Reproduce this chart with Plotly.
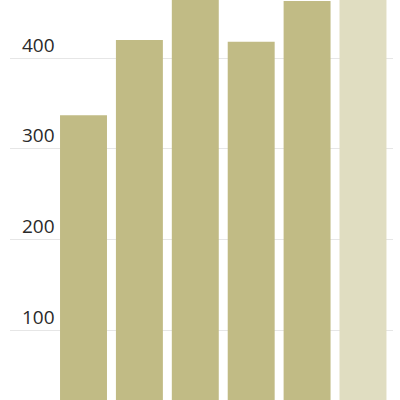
import plotly.graph_objects as go

categories = ["A", "B", "C", "D", "E", "F"]
values = [337, 420, 475, 418, 463, 480]
colors = ["#c1bb85", "#c1bb85", "#c1bb85", "#c1bb85", "#c1bb85", "#e0ddc1"]
y_ticks = [100, 200, 300, 400]
y_tick_labels = ["100", "200", "300", "400"]

fig = go.Figure(go.Bar(x=list(range(len(categories))), y=values,
                       marker=dict(color=colors, line=dict(width=0)),
                       hoverinfo="skip"))

fig.update_layout(
    width=400, height=400,
    margin=dict(l=10, r=7, t=0, b=0, autoexpand=False),
    paper_bgcolor="white", plot_bgcolor="white",
    bargap=0.16, showlegend=False,
    font=dict(family="Open Sans", color="#333333"),
)
fig.update_xaxes(range=[-1.315, 5.537], showticklabels=False, showgrid=False,
                 zeroline=False, showline=False)
fig.update_yaxes(range=[23, 464], tickvals=y_ticks, ticktext=y_tick_labels,
                 ticklabelposition="inside", ticklabelshift=-13, ticklabelstandoff=9,
                 tickfont=dict(size=19, color="#2a2a2a"),
                 showgrid=True, gridcolor="#e6e6e6", gridwidth=1,
                 zeroline=False, showline=False)

fig.write_html("out.html", config={"displayModeBar": False},
               post_script="document.body.style.margin='0';document.body.style.overflow='hidden';")
